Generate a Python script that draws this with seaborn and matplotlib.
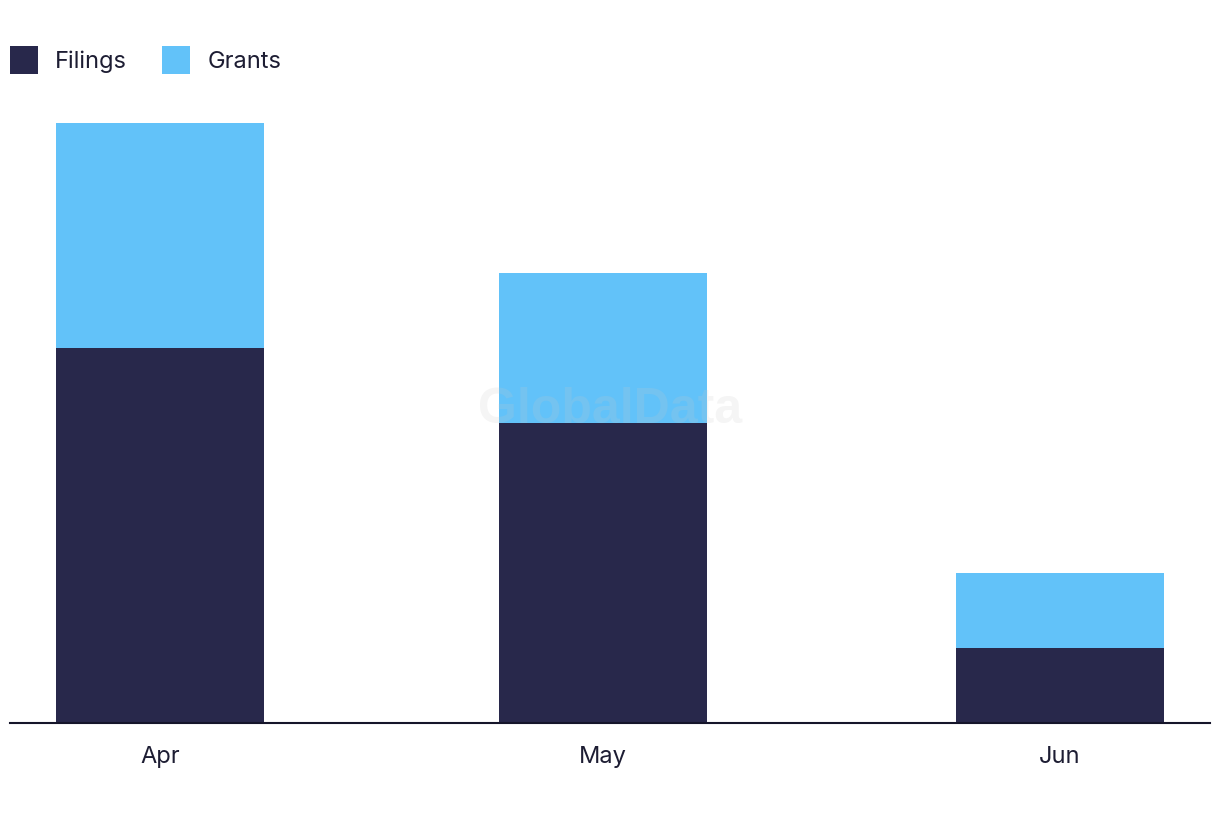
import numpy as np
import pandas as pd
import matplotlib
matplotlib.use("Agg")
import matplotlib.pyplot as plt
from matplotlib.patches import Patch
import seaborn as sns

# ---- data ----
months = ["Apr", "May", "Jun"]
month_dates = ["2024-04-01", "2024-05-01", "2024-06-01"]
filings = [5, 4, 1]
grants = [3, 2, 1]

NAVY = "#28284B"
SKY = "#62C2F9"
TEXT = "#1d1d33"

dates = pd.to_datetime(month_dates)
day_pos = np.array((dates - dates[0]).days, dtype=float)
df = pd.DataFrame({
    "month": months,
    "day": day_pos,
    "filings": filings,
    "grants": grants,
})
df["total"] = df["filings"] + df["grants"]

sns.set_theme(style="white")
plt.rcParams["font.family"] = ["Inter", "DejaVu Sans"]

fig = plt.figure(figsize=(12.2, 8.22), dpi=100)
ax = fig.add_axes([10 / 1220, (822 - 723) / 822, 1200 / 1220, 630 / 822])

bar_w = 0.47
sns.barplot(data=df, x="day", y="total", native_scale=True, width=bar_w,
            color=SKY, saturation=1, linewidth=0, ax=ax)
sns.barplot(data=df, x="day", y="filings", native_scale=True, width=bar_w,
            color=NAVY, saturation=1, linewidth=0, ax=ax)

ax.set_xlim(-10.17, 71.17)
ax.set_ylim(0, 8.4)
ax.set_xticks(day_pos)
ax.set_xticklabels(months, fontsize=17, color=TEXT)
ax.set_yticks([])
ax.set_xlabel("")
ax.set_ylabel("")
ax.tick_params(axis="x", length=0, pad=16.5)
for s in ["top", "right", "left"]:
    ax.spines[s].set_visible(False)
ax.spines["bottom"].set_color("#15152a")
ax.spines["bottom"].set_linewidth(1.5)
ax.spines["bottom"].set_zorder(5)

handles = [Patch(facecolor=NAVY, edgecolor="none", label="Filings"),
           Patch(facecolor=SKY, edgecolor="none", label="Grants")]
fig.legend(handles=handles, loc="upper left", bbox_to_anchor=(10 / 1220, 1 - 46 / 822),
           ncol=2, frameon=False, fontsize=17, labelcolor=TEXT,
           handlelength=1.19, handleheight=1.45, handletextpad=0.72,
           columnspacing=1.49, borderpad=0, borderaxespad=0)

fig.text(610 / 1220, 1 - 410 / 822, "GlobalData", ha="center", va="center",
         fontsize=36, fontweight="bold", family=["Liberation Sans", "DejaVu Sans"],
         color="#c8c8c8", alpha=0.18, zorder=10)

fig.savefig("out.png", dpi=100)
